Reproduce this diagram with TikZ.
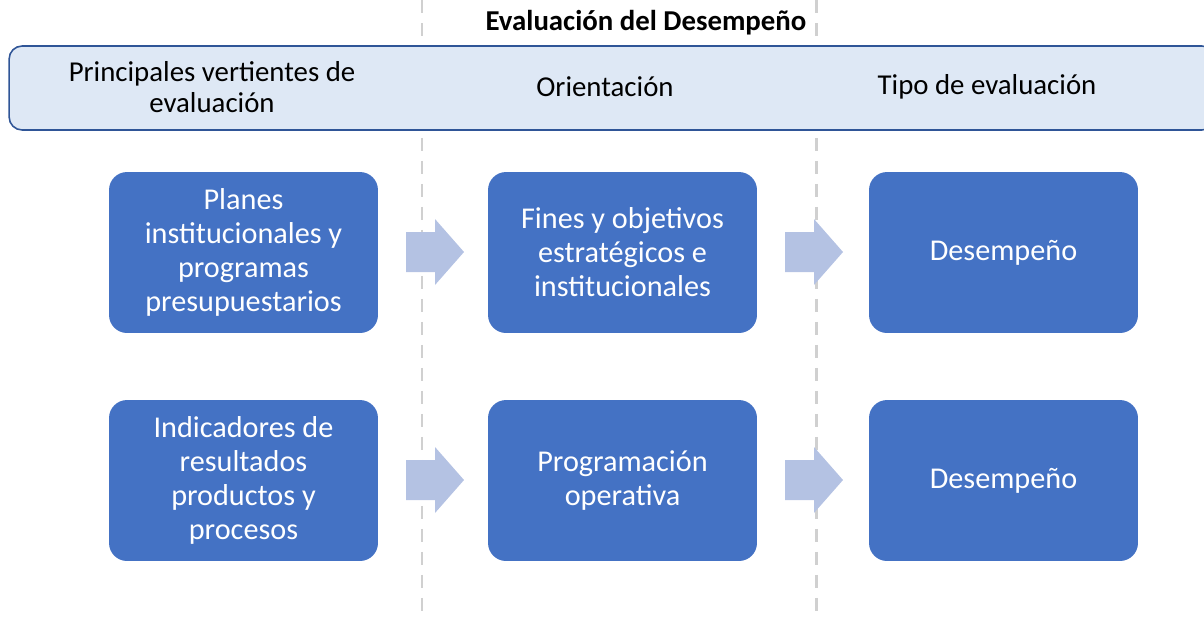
\documentclass[tikz,border=0pt]{standalone}
\usepackage{fontspec}
\setmainfont{Carlito}
\usetikzlibrary{positioning}

\definecolor{boxblue}{HTML}{4472C4}
\definecolor{headfill}{HTML}{DEE8F5}
\definecolor{headline}{HTML}{2F5597}
\definecolor{arrowblue}{HTML}{B4C2E3}
\definecolor{sepgray}{HTML}{D0D0D0}

\newcommand{\blockarrow}[2]{%
  \fill[arrowblue] (#1,#2-20) -- (#1+29,#2-20) -- (#1+29,#2-33) -- (#1+58,#2)
    -- (#1+29,#2+33) -- (#1+29,#2+20) -- (#1,#2+20) -- cycle;}

\begin{document}
\begin{tikzpicture}[x=0.02cm, y=-0.02cm,
    box/.style={draw=none, fill=boxblue, rounded corners=0.36cm, text=white,
      minimum width=5.38cm, minimum height=3.22cm, align=center, inner sep=2pt,
      font=\fontsize{17.2}{19.4}\selectfont},
    header/.style={draw=headline, line width=0.9pt, fill=headfill, rounded corners=0.26cm,
      minimum width=24.12cm, minimum height=1.68cm},
    headtext/.style={align=center, font=\fontsize{16.4}{17.8}\selectfont},
    sepline/.style={sepgray, line width=1.7pt, dash pattern=on 0.26cm off 0.2cm}]
  \useasboundingbox (0,0) rectangle (1204,620);

  % separators
  \draw[sepline] (422,0) -- (422,620);
  \draw[sepline] (816,0) -- (816,620);

  % title and header band
  \node[font=\bfseries\fontsize{16.4}{18}\selectfont] (T) at (646,23) {Evaluación del Desempeño};
  \node[header] (H) at (612,88) {};
  \node[headtext] (H1) at (212,87) {Principales vertientes de\\evaluación};
  \node[headtext] (H2) at (605,87) {Orientación};
  \node[headtext] (H3) at (987,87) {Tipo de evaluación};

  % boxes
  \node[box] (P1) at (243.5,252.5) {Planes\\institucionales y\\programas\\presupuestarios};
  \node[box] (O1) at (622.5,252.5) {Fines y objetivos\\estratégicos e\\institucionales};
  \node[box] (D1) at (1003.5,252.5) {Desempeño};
  \node[box] (P2) at (243.5,480.5) {Indicadores de\\resultados\\productos y\\procesos};
  \node[box] (O2) at (622.5,480.5) {Programación\\operativa};
  \node[box] (D2) at (1003.5,480.5) {Desempeño};

  % arrows
  \foreach \y in {252,480} {
    \blockarrow{406}{\y}
    \blockarrow{785}{\y}
  }
\end{tikzpicture}
\end{document}
